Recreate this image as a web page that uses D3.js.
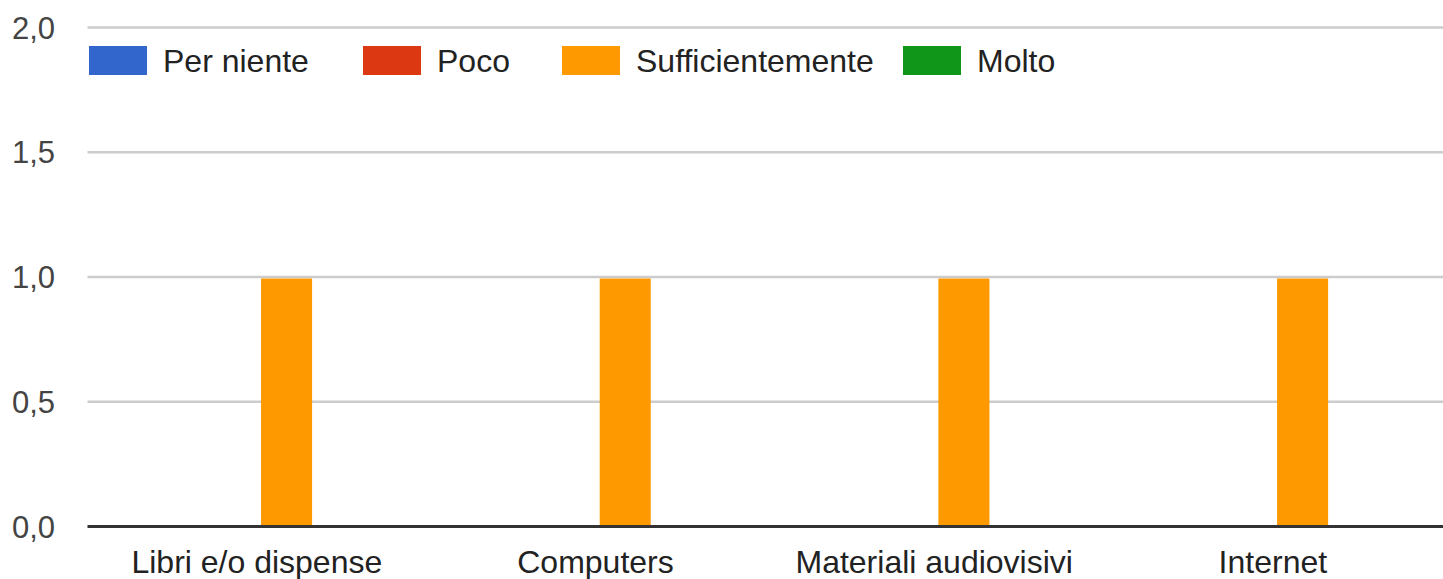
<!DOCTYPE html>
<html>
<head>
<meta charset="utf-8">
<script src="https://cdn.jsdelivr.net/npm/d3@7"></script>
<style>
  body { margin: 0; background: #fff; }
  svg { display: block; font-family: Arial, "Liberation Sans", sans-serif; }
</style>
</head>
<body>
<div id="chart"></div>
<script>
// data
var categories = ["Libri e/o dispense", "Computers", "Materiali audiovisivi", "Internet"];
var series = ["Per niente", "Poco", "Sufficientemente", "Molto"];
var colors = ["#3366cc", "#dc3912", "#ff9900", "#109618"];
var values = {
  "Per niente":       [0, 0, 0, 0],
  "Poco":             [0, 0, 0, 0],
  "Sufficientemente": [1, 1, 1, 1],
  "Molto":            [0, 0, 0, 0]
};
var yTicks = [0, 0.5, 1, 1.5, 2];

var width = 1443, height = 579;
var margin = {top: 27.5, right: 0, bottom: 52.5, left: 87.5};
// legend item x positions (layout)
var legendX = [89, 363, 562, 903];

var svg = d3.select("#chart").append("svg")
    .attr("width", width)
    .attr("height", height);

// scales
var x0 = d3.scaleBand()
    .domain(categories)
    .range([margin.left, width - 0.8]);

var gw = x0.bandwidth() * 0.149;
var x1 = d3.scaleBand()
    .domain(series)
    .range([gw, x0.bandwidth() - gw])
    .paddingInner(0.141)
    .paddingOuter(0.0705);

var y = d3.scaleLinear()
    .domain([0, 2])
    .range([height - margin.bottom, margin.top]);

var fmt = function(d) { return d3.format(".1f")(d).replace(".", ","); };

// gridlines
svg.append("g").selectAll("line")
    .data(yTicks.filter(function(d) { return d > 0; }))
    .enter().append("line")
    .attr("x1", margin.left)
    .attr("x2", width)
    .attr("y1", function(d) { return y(d); })
    .attr("y2", function(d) { return y(d); })
    .attr("stroke", "#cccccc")
    .attr("stroke-width", 2.5);

// y labels
svg.append("g").selectAll("text")
    .data(yTicks)
    .enter().append("text")
    .attr("x", 55)
    .attr("y", function(d) { return y(d); })
    .attr("dy", "0.36em")
    .attr("text-anchor", "end")
    .attr("fill", "#444")
    .style("font-size", "31px")
    .text(fmt);

// bars
var groups = svg.append("g").selectAll("g")
    .data(categories)
    .enter().append("g")
    .attr("transform", function(d) { return "translate(" + x0(d) + ",0)"; });

groups.selectAll("rect")
    .data(function(d, i) {
      return series.map(function(s, j) { return {s: s, v: values[s][i], c: colors[j]}; });
    })
    .enter().append("rect")
    .attr("x", function(d) { return x1(d.s); })
    .attr("width", x1.bandwidth())
    .attr("y", function(d) { return y(d.v) + 1.5; })
    .attr("height", function(d) { return Math.max(0, y(0) - y(d.v) - 1.5); })
    .attr("fill", function(d) { return d.c; });

// baseline
svg.append("line")
    .attr("x1", margin.left)
    .attr("x2", width)
    .attr("y1", y(0))
    .attr("y2", y(0))
    .attr("stroke", "#333")
    .attr("stroke-width", 3);

// category labels
svg.append("g").selectAll("text")
    .data(categories)
    .enter().append("text")
    .attr("x", function(d) { return x0(d) + x0.bandwidth() / 2; })
    .attr("y", 573)
    .attr("text-anchor", "middle")
    .attr("fill", "#222")
    .style("font-size", "32px")
    .text(function(d) { return d; });

// legend
series.forEach(function(s, i) {
  var g = svg.append("g").attr("transform", "translate(" + legendX[i] + ",46)");
  g.append("rect")
    .attr("width", 58)
    .attr("height", 29)
    .attr("fill", colors[i]);
  g.append("text")
    .attr("x", 74)
    .attr("y", 26)
    .attr("fill", "#222")
    .style("font-size", "32px")
    .text(s);
});
</script>
</body>
</html>
